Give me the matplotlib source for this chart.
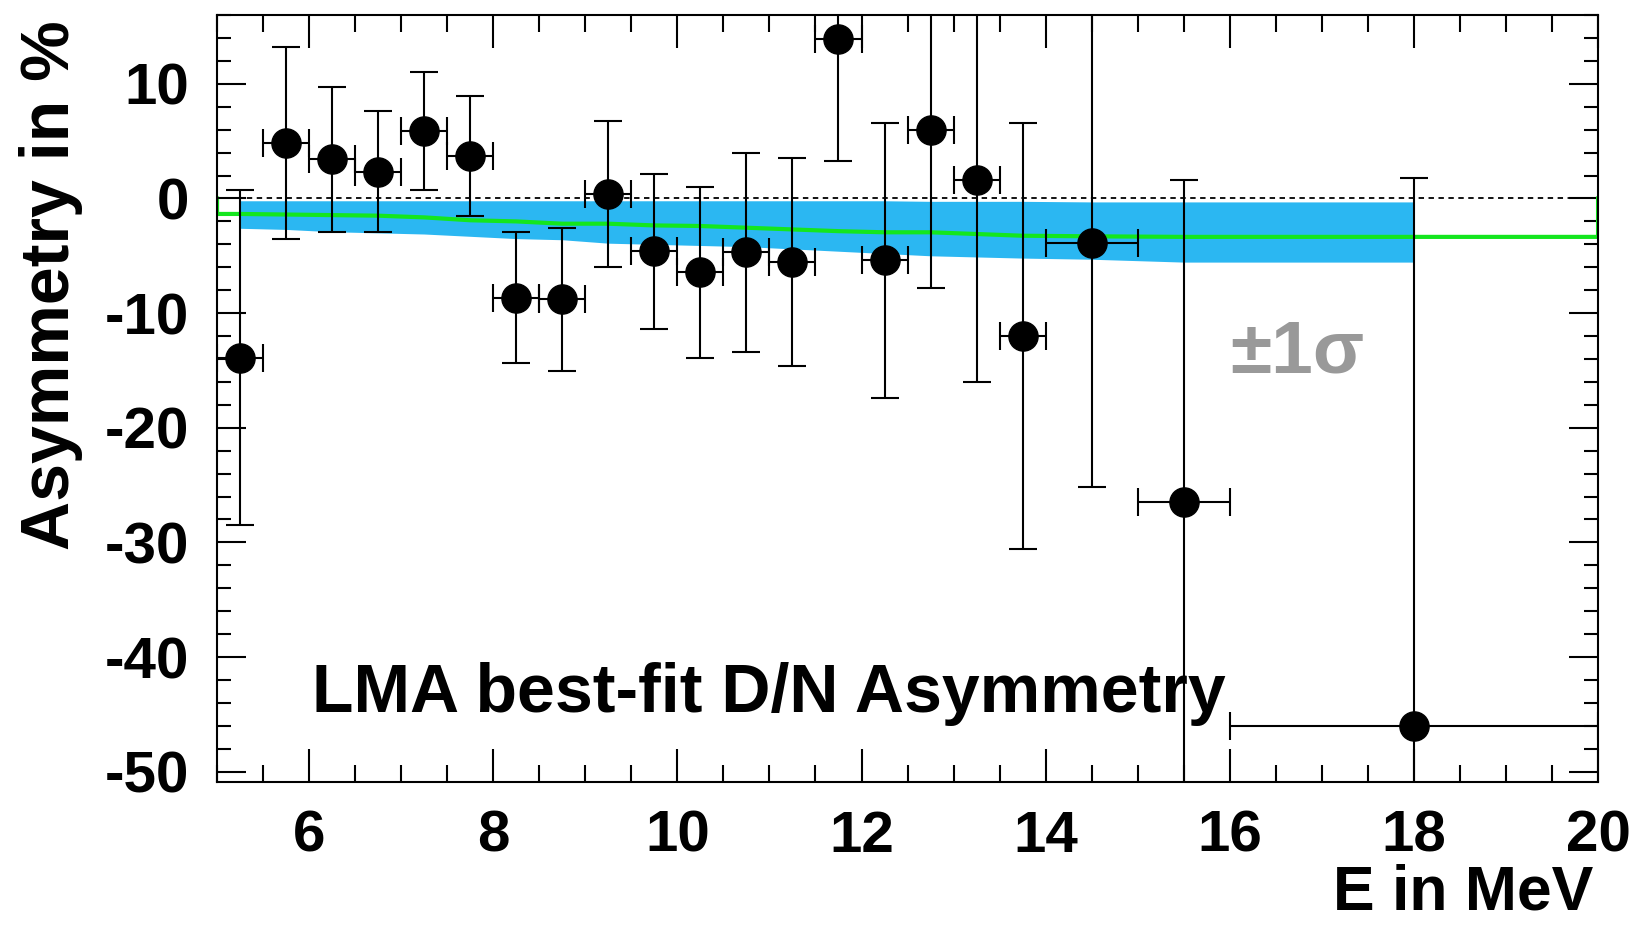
import matplotlib.pyplot as plt
from matplotlib.ticker import MultipleLocator

plt.rcParams['font.family'] = ['Liberation Sans', 'DejaVu Sans']
plt.rcParams['axes.unicode_minus'] = False

# energy bins (MeV): centres and half widths
energy = [5.25, 5.75, 6.25, 6.75, 7.25, 7.75, 8.25, 8.75, 9.25, 9.75, 10.25,
          10.75, 11.25, 11.75, 12.25, 12.75, 13.25, 13.75, 14.5, 15.5, 18.0]
energy_hw = [0.25, 0.25, 0.25, 0.25, 0.25, 0.25, 0.25, 0.25, 0.25, 0.25, 0.25,
             0.25, 0.25, 0.25, 0.25, 0.25, 0.25, 0.25, 0.5, 0.5, 2.0]

# measured day/night asymmetry in % with errors
asym = [-13.9, 4.85, 3.4, 2.35, 5.9, 3.7, -8.65, -8.8, 0.4, -4.6, -6.45,
        -4.7, -5.55, 13.95, -5.4, 6.0, 1.6, -12.0, -3.9, -26.5, -46.0]
asym_err = [14.6, 8.35, 6.35, 5.3, 5.15, 5.2, 5.7, 6.25, 6.37, 6.75, 7.45,
            8.7, 9.05, 10.7, 12.0, 13.85, 17.6, 18.6, 21.3, 28.1, 47.8]

# LMA best-fit expectation and its +-1 sigma band at the bin centres
lma = [-1.35, -1.4, -1.45, -1.5, -1.65, -1.9, -2.0, -2.2, -2.2, -2.35, -2.4,
       -2.55, -2.7, -2.85, -2.95, -2.95, -3.1, -3.25, -3.3, -3.35, -3.35]
lma_lo = [-2.6, -2.7, -2.9, -3.0, -3.1, -3.3, -3.5, -3.6, -3.9, -4.0, -4.1,
          -4.2, -4.4, -4.6, -4.8, -5.0, -5.1, -5.2, -5.3, -5.55, -5.55]
lma_hi = [-0.2, -0.2, -0.2, -0.2, -0.2, -0.2, -0.2, -0.2, -0.2, -0.2, -0.2,
          -0.2, -0.2, -0.2, -0.2, -0.25, -0.25, -0.25, -0.3, -0.3, -0.3]

e_min, e_max = 5.0, 20.0

fig = plt.figure(figsize=(16.33, 9.34), dpi=100)
ax = fig.add_axes([0.1329, 0.1627, 0.8457, 0.8212])

ax.fill_between(energy, lma_lo, lma_hi, color='#2bb7f2', lw=0, zorder=1)

# expectation drawn as a histogram outline closing on zero at both ends
lma_x = [e_min, e_min] + energy + [e_max, e_max]
lma_y = [0, lma[0]] + lma + [lma[-1], 0]
ax.plot(lma_x, lma_y, color='#14e61e', lw=3, zorder=2)

ax.axhline(0, color='black', lw=1.3, ls=(0, (3, 2.5)), zorder=2.5)

ax.errorbar(energy, asym, yerr=asym_err, xerr=energy_hw, fmt='o',
            color='black', ms=21, elinewidth=1.5, capsize=10, capthick=1.5,
            zorder=3)

ax.text(6.03, -44.8, 'LMA best-fit D/N Asymmetry', fontsize=49,
        fontweight='bold', ha='left', va='baseline')
ax.text(16.0, -15.2, '\u00b11\u03c3', fontsize=54, fontweight='bold',
        color='#999999', ha='left', va='baseline')

ax.set_xlim(e_min, e_max)
ax.set_ylim(-50.9, 16.0)

ax.xaxis.set_major_locator(MultipleLocator(2))
ax.xaxis.set_minor_locator(MultipleLocator(0.5))
ax.yaxis.set_major_locator(MultipleLocator(10))
ax.yaxis.set_minor_locator(MultipleLocator(2))

ax.tick_params(axis='both', which='both', direction='in', top=True,
               right=True, width=1.5, labelsize=42, pad=20)
ax.tick_params(axis='x', which='major', length=24)
ax.tick_params(axis='x', which='minor', length=12)
ax.tick_params(axis='y', which='major', length=21)
ax.tick_params(axis='y', which='minor', length=10)
for lab in ax.get_xticklabels() + ax.get_yticklabels():
    lab.set_fontweight('bold')

for sp in ax.spines.values():
    sp.set_linewidth(1.5)

fig.text(0.031, 0.978, 'Asymmetry in %', rotation=90, fontsize=49,
         fontweight='bold', ha='center', va='top')
fig.text(0.976, 0.012, 'E in MeV', fontsize=45, fontweight='bold',
         ha='right', va='bottom')

fig.savefig('out.png', dpi=100)
